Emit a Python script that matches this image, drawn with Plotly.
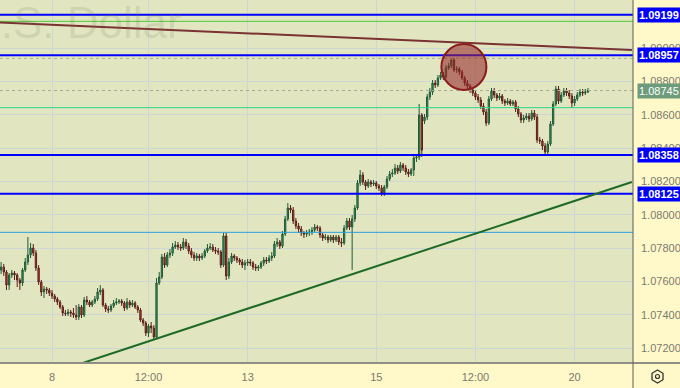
import plotly.graph_objects as go

# ---------------- data (hourly candles) ----------------
open_ = [
    1.07668, 1.07686, 1.07656, 1.07578, 1.07638, 1.07650, 1.07638, 1.07608, 1.07590, 1.07668,
    1.07716, 1.07758, 1.07800, 1.07770, 1.07680, 1.07596, 1.07536, 1.07554, 1.07548, 1.07530,
    1.07512, 1.07494, 1.07476, 1.07446, 1.07410, 1.07406, 1.07416, 1.07410, 1.07398, 1.07386,
    1.07446, 1.07398, 1.07488, 1.07476, 1.07458, 1.07476, 1.07494, 1.07536, 1.07548, 1.07458,
    1.07434, 1.07428, 1.07452, 1.07470, 1.07476, 1.07482, 1.07470, 1.07440, 1.07476, 1.07458,
    1.07470, 1.07446, 1.07428, 1.07368, 1.07350, 1.07290, 1.07332, 1.07320, 1.07266, 1.07590,
    1.07626, 1.07746, 1.07698, 1.07758, 1.07770, 1.07806, 1.07818, 1.07806, 1.07800, 1.07836,
    1.07812, 1.07782, 1.07758, 1.07740, 1.07752, 1.07740, 1.07752, 1.07782, 1.07800, 1.07806,
    1.07788, 1.07782, 1.07776, 1.07698, 1.07872, 1.07632, 1.07716, 1.07752, 1.07740, 1.07728,
    1.07716, 1.07698, 1.07710, 1.07716, 1.07710, 1.07686, 1.07680, 1.07686, 1.07710, 1.07728,
    1.07722, 1.07740, 1.07752, 1.07824, 1.07836, 1.07812, 1.07884, 1.07974, 1.08040, 1.08028,
    1.07962, 1.07932, 1.07914, 1.07890, 1.07884, 1.07890, 1.07896, 1.07908, 1.07926, 1.07920,
    1.07878, 1.07860, 1.07866, 1.07848, 1.07866, 1.07848, 1.07866, 1.07836, 1.07830, 1.07920,
    1.07962, 1.07926, 1.07974, 1.08040, 1.08190, 1.08238, 1.08196, 1.08172, 1.08196, 1.08184,
    1.08190, 1.08172, 1.08160, 1.08130, 1.08166, 1.08214, 1.08244, 1.08250, 1.08280, 1.08262,
    1.08298, 1.08280, 1.08256, 1.08244, 1.08268, 1.08340, 1.08346, 1.08598, 1.08562, 1.08586,
    1.08706, 1.08736, 1.08790, 1.08778, 1.08820, 1.08838, 1.08826, 1.08880, 1.08892, 1.08928,
    1.08868, 1.08874, 1.08856, 1.08820, 1.08790, 1.08772, 1.08748, 1.08730, 1.08706, 1.08688,
    1.08652, 1.08616, 1.08550, 1.08694, 1.08742, 1.08718, 1.08700, 1.08712, 1.08682, 1.08670,
    1.08682, 1.08664, 1.08676, 1.08634, 1.08604, 1.08568, 1.08580, 1.08592, 1.08574, 1.08610,
    1.08586, 1.08448, 1.08442, 1.08412, 1.08376, 1.08424, 1.08544, 1.08664, 1.08754, 1.08682,
    1.08718, 1.08742, 1.08730, 1.08712, 1.08670, 1.08694, 1.08718, 1.08736, 1.08730, 1.08736,
]
high_ = [
    1.07716, 1.07704, 1.07668, 1.07650, 1.07668, 1.07662, 1.07650, 1.07620, 1.07680, 1.07740,
    1.07866, 1.07830, 1.07824, 1.07788, 1.07698, 1.07608, 1.07572, 1.07566, 1.07560, 1.07548,
    1.07524, 1.07506, 1.07488, 1.07458, 1.07428, 1.07434, 1.07428, 1.07440, 1.07458, 1.07464,
    1.07458, 1.07506, 1.07512, 1.07488, 1.07488, 1.07512, 1.07560, 1.07578, 1.07560, 1.07470,
    1.07452, 1.07464, 1.07488, 1.07500, 1.07494, 1.07494, 1.07482, 1.07500, 1.07488, 1.07488,
    1.07482, 1.07458, 1.07440, 1.07380, 1.07362, 1.07344, 1.07356, 1.07338, 1.07620, 1.07656,
    1.07764, 1.07770, 1.07776, 1.07794, 1.07830, 1.07842, 1.07836, 1.07824, 1.07860, 1.07854,
    1.07830, 1.07800, 1.07776, 1.07770, 1.07764, 1.07770, 1.07794, 1.07824, 1.07830, 1.07824,
    1.07806, 1.07800, 1.07788, 1.07890, 1.07890, 1.07740, 1.07770, 1.07764, 1.07752, 1.07740,
    1.07734, 1.07728, 1.07734, 1.07734, 1.07722, 1.07704, 1.07698, 1.07722, 1.07746, 1.07746,
    1.07758, 1.07776, 1.07842, 1.07860, 1.07848, 1.07902, 1.07992, 1.08070, 1.08058, 1.08046,
    1.07980, 1.07950, 1.07932, 1.07902, 1.07908, 1.07914, 1.07926, 1.07944, 1.07938, 1.07932,
    1.07890, 1.07884, 1.07878, 1.07878, 1.07878, 1.07878, 1.07878, 1.07860, 1.07938, 1.07980,
    1.07980, 1.07998, 1.08058, 1.08208, 1.08268, 1.08256, 1.08208, 1.08214, 1.08208, 1.08208,
    1.08202, 1.08184, 1.08178, 1.08178, 1.08232, 1.08262, 1.08274, 1.08304, 1.08298, 1.08316,
    1.08310, 1.08298, 1.08274, 1.08280, 1.08358, 1.08364, 1.08664, 1.08610, 1.08604, 1.08724,
    1.08760, 1.08808, 1.08808, 1.08838, 1.08856, 1.08856, 1.08898, 1.08910, 1.08940, 1.08940,
    1.08892, 1.08886, 1.08868, 1.08832, 1.08808, 1.08784, 1.08760, 1.08742, 1.08724, 1.08706,
    1.08670, 1.08634, 1.08712, 1.08760, 1.08760, 1.08730, 1.08730, 1.08724, 1.08694, 1.08700,
    1.08694, 1.08688, 1.08688, 1.08652, 1.08616, 1.08598, 1.08610, 1.08610, 1.08628, 1.08628,
    1.08604, 1.08466, 1.08454, 1.08430, 1.08442, 1.08562, 1.08682, 1.08772, 1.08772, 1.08736,
    1.08760, 1.08760, 1.08748, 1.08730, 1.08712, 1.08736, 1.08754, 1.08754, 1.08754, 1.08760,
]
low_ = [
    1.07644, 1.07632, 1.07548, 1.07548, 1.07620, 1.07608, 1.07566, 1.07548, 1.07572, 1.07656,
    1.07698, 1.07740, 1.07752, 1.07662, 1.07578, 1.07512, 1.07500, 1.07524, 1.07512, 1.07494,
    1.07476, 1.07458, 1.07434, 1.07392, 1.07392, 1.07392, 1.07386, 1.07380, 1.07368, 1.07368,
    1.07380, 1.07386, 1.07458, 1.07446, 1.07446, 1.07464, 1.07482, 1.07518, 1.07446, 1.07416,
    1.07410, 1.07416, 1.07440, 1.07458, 1.07464, 1.07452, 1.07422, 1.07428, 1.07440, 1.07446,
    1.07434, 1.07410, 1.07356, 1.07332, 1.07272, 1.07266, 1.07290, 1.07248, 1.07254, 1.07578,
    1.07614, 1.07680, 1.07686, 1.07740, 1.07752, 1.07794, 1.07788, 1.07782, 1.07788, 1.07794,
    1.07764, 1.07740, 1.07722, 1.07722, 1.07722, 1.07728, 1.07740, 1.07770, 1.07788, 1.07776,
    1.07764, 1.07758, 1.07680, 1.07686, 1.07608, 1.07614, 1.07704, 1.07722, 1.07710, 1.07698,
    1.07680, 1.07668, 1.07692, 1.07692, 1.07668, 1.07662, 1.07662, 1.07674, 1.07692, 1.07704,
    1.07710, 1.07722, 1.07740, 1.07806, 1.07794, 1.07800, 1.07872, 1.07962, 1.08010, 1.07944,
    1.07914, 1.07890, 1.07872, 1.07860, 1.07866, 1.07872, 1.07878, 1.07896, 1.07902, 1.07860,
    1.07842, 1.07848, 1.07830, 1.07836, 1.07830, 1.07836, 1.07818, 1.07806, 1.07818, 1.07908,
    1.07908, 1.07668, 1.07956, 1.08028, 1.08172, 1.08178, 1.08148, 1.08160, 1.08166, 1.08172,
    1.08154, 1.08142, 1.08112, 1.08112, 1.08154, 1.08202, 1.08226, 1.08238, 1.08244, 1.08250,
    1.08262, 1.08238, 1.08226, 1.08232, 1.08232, 1.08316, 1.08328, 1.08346, 1.08544, 1.08568,
    1.08688, 1.08718, 1.08760, 1.08766, 1.08808, 1.08808, 1.08814, 1.08868, 1.08880, 1.08856,
    1.08850, 1.08838, 1.08808, 1.08772, 1.08754, 1.08730, 1.08712, 1.08688, 1.08670, 1.08634,
    1.08598, 1.08532, 1.08538, 1.08682, 1.08700, 1.08682, 1.08688, 1.08664, 1.08652, 1.08658,
    1.08652, 1.08652, 1.08616, 1.08586, 1.08550, 1.08550, 1.08568, 1.08556, 1.08562, 1.08568,
    1.08430, 1.08424, 1.08388, 1.08358, 1.08364, 1.08412, 1.08532, 1.08652, 1.08664, 1.08670,
    1.08706, 1.08712, 1.08694, 1.08640, 1.08652, 1.08682, 1.08706, 1.08712, 1.08718, 1.08730,
]
close_ = [
    1.07686, 1.07656, 1.07578, 1.07638, 1.07650, 1.07638, 1.07608, 1.07590, 1.07668, 1.07716,
    1.07758, 1.07800, 1.07770, 1.07680, 1.07596, 1.07536, 1.07554, 1.07548, 1.07530, 1.07512,
    1.07494, 1.07476, 1.07446, 1.07410, 1.07406, 1.07416, 1.07410, 1.07398, 1.07386, 1.07446,
    1.07398, 1.07488, 1.07476, 1.07458, 1.07476, 1.07494, 1.07536, 1.07548, 1.07458, 1.07434,
    1.07428, 1.07452, 1.07470, 1.07476, 1.07482, 1.07470, 1.07440, 1.07476, 1.07458, 1.07470,
    1.07446, 1.07428, 1.07368, 1.07350, 1.07290, 1.07332, 1.07320, 1.07266, 1.07590, 1.07626,
    1.07746, 1.07698, 1.07758, 1.07770, 1.07806, 1.07818, 1.07806, 1.07800, 1.07836, 1.07812,
    1.07782, 1.07758, 1.07740, 1.07752, 1.07740, 1.07752, 1.07782, 1.07800, 1.07806, 1.07788,
    1.07782, 1.07776, 1.07698, 1.07872, 1.07632, 1.07716, 1.07752, 1.07740, 1.07728, 1.07716,
    1.07698, 1.07710, 1.07716, 1.07710, 1.07686, 1.07680, 1.07686, 1.07710, 1.07728, 1.07722,
    1.07740, 1.07752, 1.07824, 1.07836, 1.07812, 1.07884, 1.07974, 1.08040, 1.08028, 1.07962,
    1.07932, 1.07914, 1.07890, 1.07884, 1.07890, 1.07896, 1.07908, 1.07926, 1.07920, 1.07878,
    1.07860, 1.07866, 1.07848, 1.07866, 1.07848, 1.07866, 1.07836, 1.07830, 1.07920, 1.07962,
    1.07926, 1.07974, 1.08040, 1.08190, 1.08238, 1.08196, 1.08172, 1.08196, 1.08184, 1.08190,
    1.08172, 1.08160, 1.08130, 1.08166, 1.08214, 1.08244, 1.08250, 1.08280, 1.08262, 1.08298,
    1.08280, 1.08256, 1.08244, 1.08268, 1.08340, 1.08346, 1.08598, 1.08388, 1.08586, 1.08706,
    1.08736, 1.08790, 1.08778, 1.08820, 1.08838, 1.08826, 1.08880, 1.08892, 1.08928, 1.08868,
    1.08874, 1.08856, 1.08820, 1.08790, 1.08772, 1.08748, 1.08730, 1.08706, 1.08688, 1.08652,
    1.08616, 1.08550, 1.08694, 1.08742, 1.08718, 1.08700, 1.08712, 1.08682, 1.08670, 1.08682,
    1.08664, 1.08676, 1.08634, 1.08604, 1.08568, 1.08580, 1.08592, 1.08574, 1.08610, 1.08586,
    1.08448, 1.08442, 1.08412, 1.08376, 1.08424, 1.08544, 1.08664, 1.08754, 1.08682, 1.08718,
    1.08742, 1.08730, 1.08712, 1.08670, 1.08694, 1.08718, 1.08736, 1.08730, 1.08736, 1.08745,
]
bar_index = list(range(len(close_)))

# time-axis labels (bar index of each label)
tick_bars = [19, 55, 92, 140, 177, 214]
tick_labels = ["8", "12:00", "13", "15", "12:00", "20"]

# price axis (1.09200 is fully hidden behind the 1.09199 level tag in the reference)
price_ticks = [1.072, 1.074, 1.076, 1.078, 1.080, 1.082, 1.084, 1.086, 1.088, 1.090]
price_tick_text = ["1.07200", "1.07400", "1.07600", "1.07800", "1.08000", "1.08200",
                   "1.08400", "1.08600", "1.08800", "1.09000"]

# drawn levels
blue_levels = [1.09199, 1.08957, 1.08358, 1.08125]
blue_level_text = ["1.09199", "1.08957", "1.08358", "1.08125"]
green_level = 1.09160
mint_level = 1.08642
lightblue_level = 1.07894
dotted_levels = [1.08938, 1.08745]
last_price = 1.08745

# trend lines (bar index, price)
brown_line_bars = [-0.41, 235.4]
brown_line_prices = [1.09153, 1.08988]
green_line_bars = [30.5, 235.4]
green_line_prices = [1.07110, 1.08196]

# highlighted top (circle)
circle_bar = 172.7
circle_price = 1.08886
circle_rad_bars = 8.4
circle_rad_price = 0.00138

# ---------------- figure ----------------
W, H = 680, 388
ML, MR, MT, MB = 0, 47, 0, 25
PW = W - ML - MR
PH = H - MT - MB


def px_x(p):
    return (p - ML) / PW


def px_y(p):
    return (H - MB - p) / PH


FONT = "Liberation Sans, Arial, sans-serif"
PLOT_BG = "#e2e6c0"
PAPER_BG = "#fff8c8"
GRID = "#cdd8d6"

fig = go.Figure(go.Candlestick(
    x=bar_index, open=open_, high=high_, low=low_, close=close_,
    increasing=dict(line=dict(color="#1f5b37", width=1), fillcolor="#3d9462"),
    decreasing=dict(line=dict(color="#5c1f1a", width=1), fillcolor="#cc3a2e"),
    whiskerwidth=0, hoverinfo="skip", showlegend=False,
))

shapes = []
for lv in blue_levels:
    shapes.append(dict(type="line", xref="paper", yref="y", x0=0, x1=1, y0=lv, y1=lv,
                       line=dict(color="#0000ff", width=2), layer="above"))
shapes.append(dict(type="line", xref="paper", yref="y", x0=0, x1=1, y0=green_level, y1=green_level,
                   line=dict(color="#4cc83a", width=1), layer="above"))
shapes.append(dict(type="line", xref="paper", yref="y", x0=0, x1=1, y0=mint_level, y1=mint_level,
                   line=dict(color="#2fd58a", width=1), layer="above"))
shapes.append(dict(type="line", xref="paper", yref="y", x0=0, x1=1, y0=lightblue_level, y1=lightblue_level,
                   line=dict(color="#2a9fe0", width=1), layer="above"))
for lv in dotted_levels:
    shapes.append(dict(type="line", xref="paper", yref="y", x0=0, x1=1, y0=lv, y1=lv,
                       line=dict(color="#a8aa98", width=1, dash="dot"), layer="above"))
shapes.append(dict(type="line", xref="x", yref="y",
                   x0=brown_line_bars[0], x1=brown_line_bars[1],
                   y0=brown_line_prices[0], y1=brown_line_prices[1],
                   line=dict(color="#7a3232", width=2), layer="above"))
shapes.append(dict(type="line", xref="x", yref="y",
                   x0=green_line_bars[0], x1=green_line_bars[1],
                   y0=green_line_prices[0], y1=green_line_prices[1],
                   line=dict(color="#1e6b26", width=2), layer="above"))
shapes.append(dict(type="circle", xref="x", yref="y",
                   x0=circle_bar - circle_rad_bars, x1=circle_bar + circle_rad_bars,
                   y0=circle_price - circle_rad_price, y1=circle_price + circle_rad_price,
                   fillcolor="rgba(150,40,40,0.58)", line=dict(color="#8b1c1c", width=2),
                   layer="above"))
# axis frame: bottom line across full width, vertical separator down to the bottom
shapes.append(dict(type="line", xref="paper", yref="paper", x0=0, x1=px_x(W), y0=0, y1=0,
                   line=dict(color="#8f8f86", width=2), layer="above"))
shapes.append(dict(type="line", xref="paper", yref="paper", x0=px_x(633), x1=px_x(633),
                   y0=px_y(H), y1=1, line=dict(color="#5d5d58", width=1), layer="above"))
# settings icon (hexagon + dot) in the corner
cx, cy, rx, ry = 657.5, 376.5, 5.5, 6.5
hexpts = [(cx, cy - ry), (cx + rx, cy - ry / 2), (cx + rx, cy + ry / 2),
          (cx, cy + ry), (cx - rx, cy + ry / 2), (cx - rx, cy - ry / 2)]
path = "M " + " L ".join(f"{px_x(a):.5f},{px_y(b):.5f}" for a, b in hexpts) + " Z"
shapes.append(dict(type="path", xref="paper", yref="paper", path=path,
                   line=dict(color="#333333", width=1.3), layer="above"))
shapes.append(dict(type="circle", xref="paper", yref="paper",
                   x0=px_x(cx - 2), x1=px_x(cx + 2), y0=px_y(cy + 2), y1=px_y(cy - 2),
                   line=dict(color="#333333", width=1.2), layer="above"))

annotations = [
    dict(text="U.S. Dollar", xref="paper", yref="paper", x=px_x(-33), y=px_y(-4),
         xanchor="left", yanchor="top", showarrow=False,
         font=dict(family=FONT, size=44, color="rgba(110,115,90,0.17)")),
]
for lv, txt in zip(blue_levels, blue_level_text):
    annotations.append(dict(text="<b>" + txt + "</b>", xref="paper", yref="y", x=px_x(637), y=lv,
                            xanchor="left", yanchor="middle", showarrow=False,
                            bgcolor="#0000ff", borderpad=1,
                            font=dict(family=FONT, size=11, color="#ffffff")))
annotations.append(dict(text=f"{last_price:.5f}", xref="paper", yref="y", x=px_x(637), y=last_price,
                        xanchor="left", yanchor="middle", showarrow=False,
                        bgcolor="#6c9c7b", borderpad=1,
                        font=dict(family=FONT, size=11, color="#ffffff")))

fig.update_layout(
    width=W, height=H, autosize=False,
    margin=dict(l=ML, r=MR, t=MT, b=MB, pad=0),
    paper_bgcolor=PAPER_BG, plot_bgcolor=PLOT_BG,
    showlegend=False, dragmode=False,
    shapes=shapes, annotations=annotations,
    xaxis=dict(range=[-0.41, 235.8], tickvals=tick_bars, ticktext=tick_labels,
               showgrid=True, gridcolor=GRID, gridwidth=1, zeroline=False,
               showline=False, ticks="", ticklabelstandoff=6,
               tickfont=dict(family=FONT, size=11, color="#7a7a72"),
               rangeslider=dict(visible=False), fixedrange=True),
    yaxis=dict(side="right", range=[1.07110, 1.09288], tickvals=price_ticks, ticktext=price_tick_text,
               showgrid=True, gridcolor=GRID, gridwidth=1, zeroline=False,
               showline=False, ticks="", ticklabelstandoff=7,
               tickfont=dict(family=FONT, size=11, color="#7a7a72"), fixedrange=True),
)

fig.write_html("out.html", config={"displayModeBar": False, "staticPlot": True})
